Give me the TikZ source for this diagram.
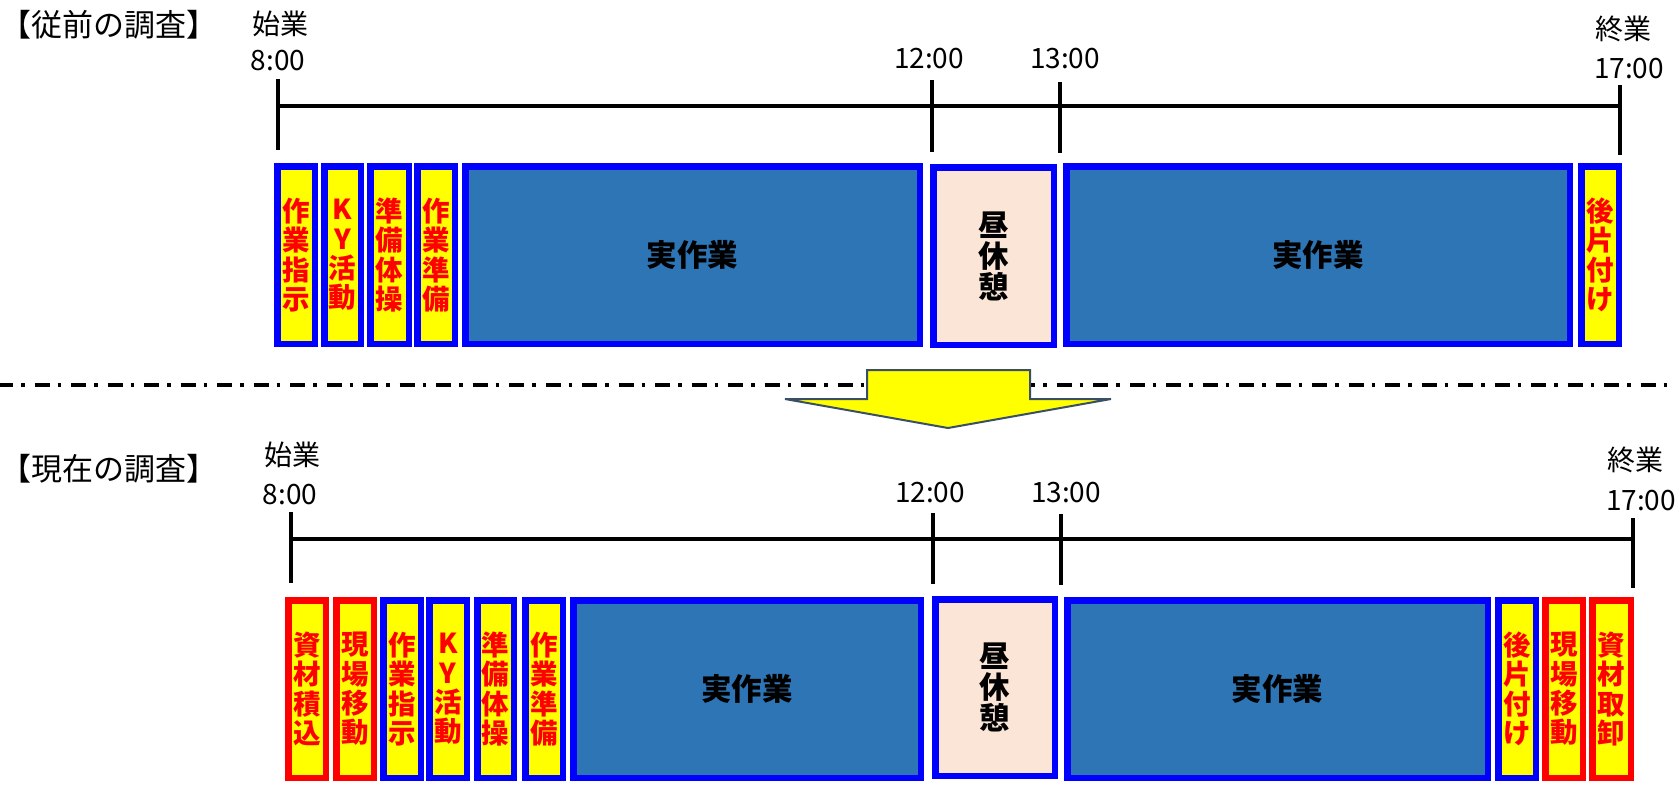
\documentclass[tikz,border=0pt]{standalone}
\usepackage{fontspec}
\setmainfont{Noto Sans CJK JP}
\definecolor{boxblue}{HTML}{0000FF}
\definecolor{boxred}{HTML}{FF0000}
\definecolor{fillyellow}{HTML}{FFFF00}
\definecolor{workblue}{HTML}{2E75B6}
\definecolor{lunchpink}{HTML}{FBE5D6}
\definecolor{arrowedge}{HTML}{3A4F66}
\newcommand\vfont{\bfseries\fontsize{27.5}{29.4}\selectfont}
\newcommand\bigfont{\bfseries\fontsize{30.5}{31}\selectfont}
\newcommand\tlbox[7]{\node[#6, minimum width={#3-#2-6.5}, minimum height={#5-#4-6.5}] (#1) at ({(#2+#3)/2},{(#4+#5)/2}) {#7};}
\begin{document}
\begin{tikzpicture}[x=1pt,y=-1pt,
  lbl/.style={font=\fontsize{28}{30}\selectfont, inner sep=0},
  ttl/.style={font=\fontsize{31}{33}\selectfont, inner sep=0},
  bxbase/.style={draw, line width=6.5pt, inner sep=0, align=center},
  smallblue/.style={bxbase, draw=boxblue, fill=fillyellow, text=boxred, font=\vfont},
  smallred/.style={bxbase, draw=boxred, fill=fillyellow, text=boxred, font=\vfont},
  work/.style={bxbase, draw=boxblue, fill=workblue, font=\bigfont},
  lunch/.style={bxbase, draw=boxblue, fill=lunchpink, font=\bigfont},
  axis/.style={line width=3.5pt, black},
  sep/.style={line width=3.3pt, black, dash pattern=on 15pt off 8pt on 3.5pt off 10pt},
  bigarrow/.style={draw=arrowedge, line width=2pt, fill=fillyellow, line join=miter}
]
\useasboundingbox (0,0) rectangle (1675,787);

% ---------- upper timeline ----------
\node[ttl] (title1) at (109,25) {【従前の調査】};
\node[lbl] (s1) at (280,24) {始業};
\node[lbl] (h8a) at (278,61) {8:00};
\node[lbl] (h12a) at (929,59) {12:00};
\node[lbl] (h13a) at (1065,59) {13:00};
\node[lbl] (e1) at (1623,29) {終業};
\node[lbl] (h17a) at (1629,69) {17:00};

\coordinate (a8t) at (278,79);   \coordinate (a8b) at (278,150);
\coordinate (a12t) at (932,80);  \coordinate (a12b) at (932,152);
\coordinate (a13t) at (1060,82); \coordinate (a13b) at (1060,153);
\coordinate (a17t) at (1620,85); \coordinate (a17b) at (1620,155);
\coordinate (al0) at (278,106);  \coordinate (al1) at (1620,106);
\draw[axis] (al0) -- (al1);
\draw[axis] (a8t) -- (a8b);
\draw[axis] (a12t) -- (a12b);
\draw[axis] (a13t) -- (a13b);
\draw[axis] (a17t) -- (a17b);

\tlbox{t1}{274}{318}{163}{347}{smallblue}{作\\業\\指\\示}
\tlbox{t2}{321}{364}{163}{347}{smallblue}{K\\Y\\活\\動}
\tlbox{t3}{367}{412}{163}{347}{smallblue}{準\\備\\体\\操}
\tlbox{t4}{414}{458}{163}{347}{smallblue}{作\\業\\準\\備}
\tlbox{t5}{462}{923}{163}{347}{work}{実作業}
\tlbox{t6}{930}{1057}{164}{348}{lunch}{昼\\休\\憩}
\tlbox{t7}{1063}{1573}{163}{347}{work}{実作業}
\tlbox{t8}{1578}{1622}{163}{347}{smallblue}{後\\片\\付\\け}

% ---------- separator and arrow ----------
\coordinate (sepL) at (-2,385); \coordinate (sepR) at (1677,385);
\draw[sep] (sepL) -- (sepR);
\draw[bigarrow] (867,370) -- (1030,370) -- (1030,399) -- (1111,399) -- (948,428) -- (785,399) -- (867,399) -- cycle;

% ---------- lower timeline ----------
\node[ttl] (title2) at (109,469) {【現在の調査】};
\node[lbl] (s2) at (292,455) {始業};
\node[lbl] (h8b) at (290,495) {8:00};
\node[lbl] (h12b) at (930,493) {12:00};
\node[lbl] (h13b) at (1066,493) {13:00};
\node[lbl] (e2) at (1635,460) {終業};
\node[lbl] (h17b) at (1641,501) {17:00};

\coordinate (b8t) at (291,512);   \coordinate (b8b) at (291,583);
\coordinate (b12t) at (933,513);  \coordinate (b12b) at (933,584);
\coordinate (b13t) at (1061,514); \coordinate (b13b) at (1061,585);
\coordinate (b17t) at (1633,518); \coordinate (b17b) at (1633,588);
\coordinate (bl0) at (291,539);   \coordinate (bl1) at (1633,539);
\draw[axis] (bl0) -- (bl1);
\draw[axis] (b8t) -- (b8b);
\draw[axis] (b12t) -- (b12b);
\draw[axis] (b13t) -- (b13b);
\draw[axis] (b17t) -- (b17b);

\tlbox{u1}{285}{329}{597}{781}{smallred}{資\\材\\積\\込}
\tlbox{u2}{333}{377}{597}{781}{smallred}{現\\場\\移\\動}
\tlbox{u3}{380}{424}{597}{781}{smallblue}{作\\業\\指\\示}
\tlbox{u4}{426}{470}{597}{781}{smallblue}{K\\Y\\活\\動}
\tlbox{u5}{474}{517}{597}{781}{smallblue}{準\\備\\体\\操}
\tlbox{u6}{522}{566}{597}{781}{smallblue}{作\\業\\準\\備}
\tlbox{u7}{570}{924}{597}{781}{work}{実作業}
\tlbox{u8}{932}{1058}{596}{779}{lunch}{昼\\休\\憩}
\tlbox{u9}{1064}{1491}{597}{781}{work}{実作業}
\tlbox{u10}{1495}{1539}{597}{781}{smallblue}{後\\片\\付\\け}
\tlbox{u11}{1542}{1586}{597}{781}{smallred}{現\\場\\移\\動}
\tlbox{u12}{1589}{1634}{597}{781}{smallred}{資\\材\\取\\卸}
\end{tikzpicture}
\end{document}
